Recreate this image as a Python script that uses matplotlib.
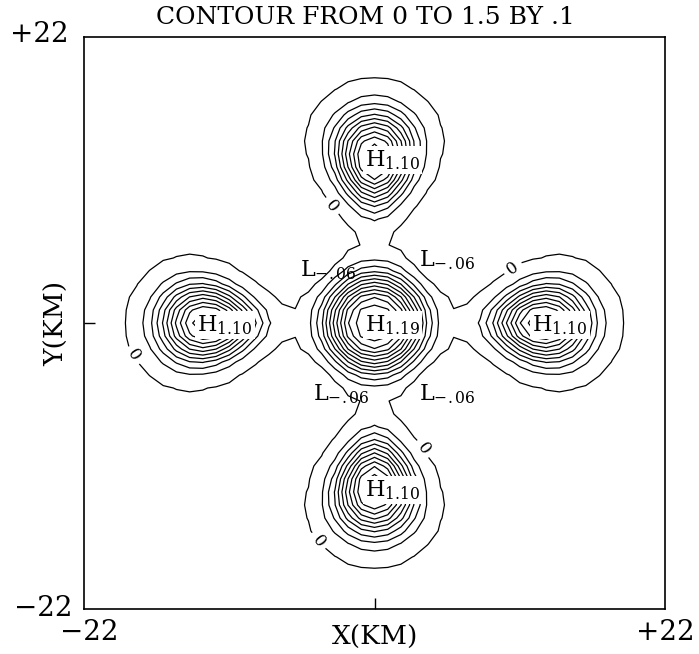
import numpy as np
import matplotlib.pyplot as plt

plt.rcParams['font.family'] = 'DejaVu Serif'
plt.rcParams['mathtext.fontset'] = 'dejavuserif'

# highs of the analysed field (km) and their labels
peak_x = [0.0, 0.0, 12.7, 0.0, -12.7]
peak_y = [0.0, 12.7, 0.0, -12.7, 0.0]
peak_val = [1.19, 1.10, 1.10, 1.10, 1.10]
peak_lbl = ['1.19', '1.10', '1.10', '1.10', '1.10']

# lows between the lobes
low_x = [-5.0, 4.0, -4.0, 4.0]
low_y = [4.2, 5.0, -5.3, -5.3]
low_lbl = ['-.06', '-.06', '-.06', '-.06']

# where the "0" contour labels sit
zero_lbl_x = [-3.9, 10.2, -17.8, 4.2, -3.9]
zero_lbl_y = [8.5, 4.6, -2.2, -9.3, -16.5]

# shape parameters of the field (km)
center_width = 3.55
center_pow = 3.0
lobe_rad = 3.4
lobe_side = 2.7
lobe_pow = 2.4
egg = 1.0
bg_far = 0.02
bg_radius = 8.0
quad_amp = 0.055
quad_r = 6.0
quad_w = 2.5

levels = np.arange(0.1, 1.55, 0.1)


def field():
    x = np.arange(-22, 22.5, 1.0)
    X, Y = np.meshgrid(x, x)
    R = np.hypot(X, Y)
    TH = np.arctan2(Y, X)
    Z = np.zeros_like(X)
    for px, py, a in zip(peak_x, peak_y, peak_val):
        r0 = np.hypot(px, py)
        if r0 == 0:
            Z += a * np.exp(-(R / center_width) ** center_pow)
        else:
            th0 = np.arctan2(py, px)
            dth = np.angle(np.exp(1j * (TH - th0)))
            dr = R - r0
            lat = R * dth * (r0 / np.maximum(R, 0.5)) ** egg
            d = np.sqrt((dr / lobe_rad) ** 2 + (lat / lobe_side) ** 2)
            Z += a * np.exp(-d ** lobe_pow)
    Z -= bg_far * (1 - np.exp(-(R / bg_radius) ** 2))
    Z -= quad_amp * np.sin(2 * TH) ** 4 * np.exp(-((R - quad_r) / quad_w) ** 2)
    return X, Y, Z


def px(x, y):
    return x / 699, 1 - y / 654


def main():
    X, Y, Z = field()
    fig = plt.figure(figsize=(6.99, 6.54), dpi=100)
    ax = fig.add_axes([84 / 699, 45 / 654, 581 / 699, 572 / 654])

    cs0 = ax.contour(X, Y, Z, levels=[0.0], colors='black', linewidths=0.9)
    ax.contour(X, Y, Z, levels=levels, colors='black', linewidths=0.9)
    ax.clabel(cs0, fmt='0', fontsize=12, inline=True,
              manual=list(zip(zero_lbl_x, zero_lbl_y)))

    for x, y, t in zip(peak_x, peak_y, peak_lbl):
        ax.annotate(r'$\mathrm{H}_{%s}$' % t, (x, y), xytext=(-7, -6),
                    textcoords='offset points', ha='left', va='baseline',
                    fontsize=16, zorder=5,
                    bbox=dict(boxstyle='square,pad=0.1', fc='white', ec='none'))
    for x, y, t in zip(low_x, low_y, low_lbl):
        ax.annotate(r'$\mathrm{L}_{%s}$' % t.replace('-', '\u2212'), (x, y),
                    xytext=(-6, -6), textcoords='offset points',
                    ha='left', va='baseline', fontsize=16, zorder=5)

    ax.set_xlim(-22, 22)
    ax.set_ylim(-22, 22)
    ax.set_xticks([0])
    ax.set_yticks([0])
    ax.tick_params(direction='in', length=8, width=1, labelbottom=False, labelleft=False)
    for s in ax.spines.values():
        s.set_linewidth(1.2)

    fig.text(*px(365, 18), 'CONTOUR FROM 0 TO 1.5 BY .1', fontsize=18, ha='center', va='center')
    fig.text(*px(375, 637), 'X(KM)', fontsize=19, ha='center', va='center')
    fig.text(*px(57, 323), 'Y(KM)', fontsize=19, ha='center', va='center', rotation=90)
    fig.text(*px(39, 35), '+22', fontsize=20, ha='center', va='center')
    fig.text(*px(43, 609), '\u221222', fontsize=20, ha='center', va='center')
    fig.text(*px(89, 633), '\u221222', fontsize=20, ha='center', va='center')
    fig.text(*px(665, 632), '+22', fontsize=20, ha='center', va='center')

    fig.savefig('out.png', dpi=100)


if __name__ == '__main__':
    main()
